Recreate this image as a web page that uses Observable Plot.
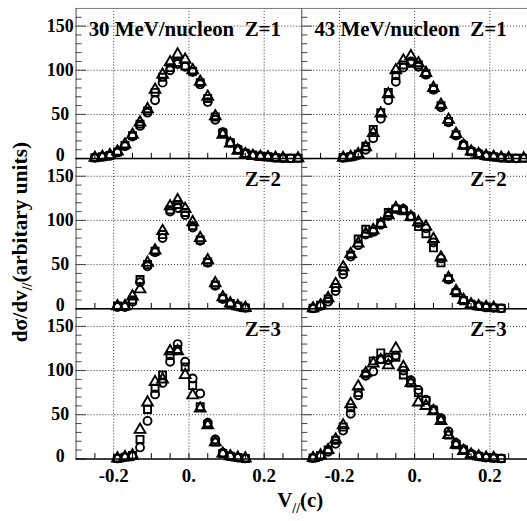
<!DOCTYPE html>
<html><head><meta charset="utf-8">
<script src="https://cdn.jsdelivr.net/npm/d3@7"></script>
<script src="https://cdn.jsdelivr.net/npm/@observablehq/plot@0.6"></script>
<style>
html,body{margin:0;padding:0;background:#fff;overflow:hidden}
#chart{width:527px;height:521px;overflow:hidden}
#chart svg text{font-family:"Liberation Serif","DejaVu Serif",serif !important;font-weight:bold}
</style>
</head><body><div id="chart"></div>
<script>
// ---- categories ----
const vBins = [-0.29,-0.27,-0.25,-0.23,-0.21,-0.19,-0.17,-0.15,-0.13,-0.11,-0.09,-0.07,-0.05,-0.03,-0.01,
               0.01,0.03,0.05,0.07,0.09,0.11,0.13,0.15,0.17,0.19,0.21,0.23,0.25,0.27,0.29];
const energies = ["30 MeV/nucleon", "43 MeV/nucleon"];
const charges = ["Z=1", "Z=2", "Z=3"];
const seriesNames = ["square", "circle", "triangle"];
const panelLabels = ["30 MeV/nucleon\u00a0\u00a0Z=1", "43 MeV/nucleon\u00a0\u00a0Z=1", "Z=2", "Z=2", "Z=3", "Z=3"];

// ---- series values (one entry per vBins, null = no point) ----
const e30z1Square   = [null,null,1,2,3.5,7.5,15,26,39,54,75,92,103,109,105,99,86,68,47,29,18,10,6,4,2.5,2,1,0.5,0.3,0.3];
const e30z1Circle   = [null,null,1,2,3,7,14,25,37,52,66,86,100,107,104,98,84,64,44,30,18,11,6,4,3,2,1,0.5,0.3,null];
const e30z1Triangle = [null,null,1,2,4,8,16,27,41,56,78,95,109,118,112,100,87,70,48,27,17,9,5,3,2,1.5,1,0.5,null,0.3];

const e43z1Square   = [null,null,null,null,null,1,2,5,14,33,52,75,94,106,108,106,96,79,60,42,27,15,8,5,3,2,1,0.5,0.3,0.3];
const e43z1Circle   = [null,null,null,null,null,1,2,4,10,23,45,66,87,103,110,104,95,78,58,41,26,16,9,6,3,2,1,0.5,0.3,null];
const e43z1Triangle = [null,null,null,null,null,1,2,5,13,29,51,73,100,111,116,108,97,80,61,44,28,15,8,5,3,2,1,0.5,null,0.3];

const e30z2Square   = [null,null,null,null,null,3,2.5,10,33,50,65,84,112,118,109,94,78,53,27,12,6,3,1,null,null,null,null,null,null,null];
const e30z2Circle   = [null,null,null,null,null,2,2,8,30,48,64,80,110,114,106,92,77,52,26,11,5,2.5,1,null,null,null,null,null,null,null];
const e30z2Triangle = [null,null,null,null,null,3,3,14,22,52,66,88,116,123,113,98,80,55,29,13,6,3,1,null,null,null,null,null,null,null];

const e43z2Square   = [null,0.5,4,11,24,43,61,79,90,88,97,109,113,111,104,93,85,69,52,34,18,9,5,3,2,1,0.5,null,null,null];
const e43z2Circle   = [null,0.5,3,8,20,39,59,72,84,87,95,105,113,113,105,97,91,75,57,33,19,10,5,3,1.5,1,0.5,null,null,null];
const e43z2Triangle = [null,0.5,4,12,28,47,62,74,85,89,96,106,114,111,104,98,93,79,58,35,20,10,5,3,2,1,null,null,null,null];

const e30z3Square   = [null,null,null,null,null,0.5,2,4,22,56,80,95,117,124,104,83,59,39,19,6,3,1.5,0.5,null,null,null,null,null,null,null];
const e30z3Circle   = [null,null,null,null,null,0.5,2,3,13,43,73,86,110,130,110,91,74,41,22,7,3,1.5,0.5,null,null,null,null,null,null,null];
const e30z3Triangle = [null,null,null,null,null,0.5,2,4,33,64,87,90,122,122,95,72,57,38,19,6,3,1.5,0.5,null,null,null,null,null,null,null];

const e43z3Square   = [null,1,4,10,21,36,58,75,96,111,120,115,115,95,86,75,66,55,44,27,16,10,5,3,1.5,1,0.5,null,null,null];
const e43z3Circle   = [null,1,3,8,17,32,51,72,94,99,113,112,117,100,89,78,67,56,46,31,18,11,6,3,1.5,1,0.5,null,null,null];
const e43z3Triangle = [null,1,4,10,22,38,62,82,97,108,112,106,125,104,86,64,60,54,43,27,16,9,5,3,1.5,1,null,null,null,null];

// ---- ticks ----
const xTicks = [-0.2, 0, 0.2];
const xTickLabels = ["-0.2", "0.", "0.2"];
const xMinorTicks = [-0.25,-0.2,-0.15,-0.1,-0.05,0,0.05,0.1,0.15,0.2,0.25];
const yTicks = [0, 50, 100, 150];
const yMinorTicks = [10,20,30,40,60,70,80,90,110,120,130,140,160];

// ---- build table ----
const panels = [
  {energy: energies[0], charge: charges[0], square: e30z1Square, circle: e30z1Circle, triangle: e30z1Triangle, label: panelLabels[0]},
  {energy: energies[1], charge: charges[0], square: e43z1Square, circle: e43z1Circle, triangle: e43z1Triangle, label: panelLabels[1]},
  {energy: energies[0], charge: charges[1], square: e30z2Square, circle: e30z2Circle, triangle: e30z2Triangle, label: panelLabels[2]},
  {energy: energies[1], charge: charges[1], square: e43z2Square, circle: e43z2Circle, triangle: e43z2Triangle, label: panelLabels[3]},
  {energy: energies[0], charge: charges[2], square: e30z3Square, circle: e30z3Circle, triangle: e30z3Triangle, label: panelLabels[4]},
  {energy: energies[1], charge: charges[2], square: e43z3Square, circle: e43z3Circle, triangle: e43z3Triangle, label: panelLabels[5]}
];
const rows = [];
for (const p of panels) for (const s of seriesNames) p[s].forEach((val, i) => {
  if (val != null) rows.push({energy: p.energy, charge: p.charge, series: s, v: vBins[i], value: val});
});

const serif = "Liberation Serif";
const dotOpts = (sym) => ({fx: "energy", fy: "charge", x: "v", y: "value", symbol: sym, r: 4,
  stroke: "black", strokeWidth: 1.9, fill: "none"});

const plot = Plot.plot({
  width: 530, height: 521,
  marginLeft: 76, marginRight: 0, marginTop: 7.5, marginBottom: 58.7,
  style: {fontFamily: serif, background: "white", color: "black"},
  fx: {domain: energies, padding: 0, axis: null},
  fy: {domain: charges, padding: 0, axis: null},
  x: {domain: [-0.3, 0.3]},
  y: {domain: [0, 170]},
  marks: [
    Plot.ruleX(xTicks, {stroke: "#333", strokeDasharray: "1,2", strokeWidth: 1}),
    Plot.ruleY(yTicks.filter(d => d > 0), {stroke: "#333", strokeDasharray: "1,2", strokeWidth: 1}),
    Plot.ruleY([170], {stroke: "#777", strokeWidth: 1}),
    Plot.ruleX([-0.3], {stroke: "#666", strokeWidth: 1.2}),
    Plot.ruleX(xMinorTicks, {y1: 0, y2: 6, stroke: "black", strokeWidth: 1}),
    Plot.ruleY(yMinorTicks, {x1: -0.3, x2: -0.284, stroke: "#444", strokeWidth: 1}),
    Plot.ruleY(yTicks, {x1: -0.3, x2: -0.272, stroke: "#444", strokeWidth: 1}),
    Plot.ruleY([0], {stroke: "black", strokeWidth: 1.5}),
    Plot.dot(rows.filter(d => d.series === "square"), dotOpts("square")),
    Plot.dot(rows.filter(d => d.series === "circle"), dotOpts("circle")),
    Plot.dot(rows.filter(d => d.series === "triangle"), dotOpts("triangle")),
    Plot.text(panels, {fx: "energy", fy: "charge", text: "label", frameAnchor: "top-right",
      dx: -21, dy: 20.8, lineAnchor: "middle", textAnchor: "end",
      fontSize: 21, fontWeight: "bold", fontFamily: serif, fill: "black"}),
    Plot.axisX(xTicks, {tickSize: 0, tickPadding: 10, fontSize: 19, fontWeight: "bold",
      tickFormat: d => xTickLabels[xTicks.indexOf(d)], label: null}),
    Plot.axisY(yTicks.filter(d => d > 0), {tickSize: 0, tickPadding: 16, textAnchor: "middle", fontSize: 18,
      fontWeight: "bold", label: null}),
    Plot.axisY([0], {tickSize: 0, tickPadding: 16, textAnchor: "middle", fontSize: 18, dy: -3,
      fontWeight: "bold", label: null})
  ]
});
document.getElementById("chart").append(plot);

// axis titles
const svg = d3.select(plot);
const yt = svg.append("text")
  .attr("transform", "translate(20,243.5) rotate(-90)")
  .attr("text-anchor", "middle").attr("dy", "0.35em")
  .attr("font-size", 21.5).attr("font-weight", "bold").attr("font-family", serif).attr("fill", "black");
yt.append("tspan").text("dσ/dv");
yt.append("tspan").attr("font-size", 14).attr("dy", 5).text("//");
yt.append("tspan").attr("dy", -5).text("(arbitary units)");

const xt = svg.append("text")
  .attr("x", 302).attr("y", 510).attr("text-anchor", "middle")
  .attr("font-size", 21).attr("font-weight", "bold").attr("font-family", serif).attr("fill", "black");
xt.append("tspan").text("V");
xt.append("tspan").attr("font-size", 14).attr("dy", 6).text("//");
xt.append("tspan").attr("dy", -6).text("(c)");
</script>
</body></html>
